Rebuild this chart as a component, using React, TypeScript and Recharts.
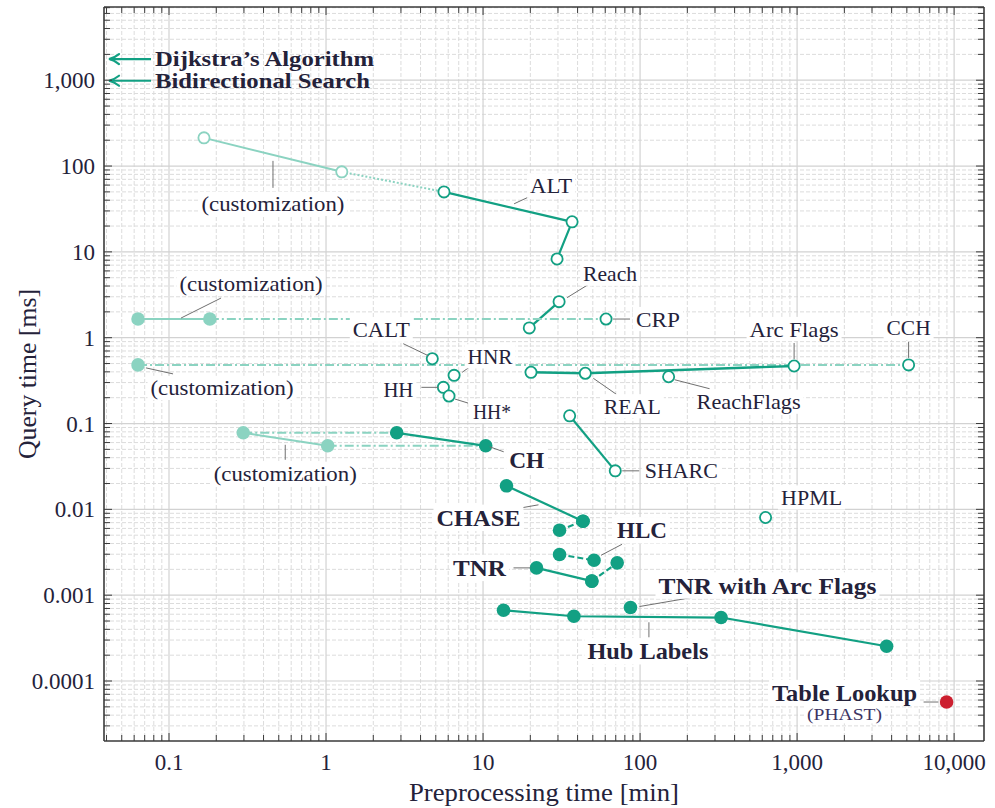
import React from 'react';
import { ScatterChart, Scatter, XAxis, YAxis, CartesianGrid, ReferenceDot, Label } from 'recharts';

// ---------- data (preprocessing time [min], query time [ms]) ----------
const altCustomization = [{ x: 0.167, y: 213 }, { x: 1.26, y: 85.6 }];
const altCustomizationTail = [{ x: 1.26, y: 85.6 }, { x: 5.64, y: 50 }];
const alt = [{ x: 5.64, y: 50 }, { x: 36.9, y: 22.4 }, { x: 29.6, y: 8.27 }];
const reach = [{ x: 19.7, y: 1.3 }, { x: 30.5, y: 2.63 }];
const crpCustomization = [{ x: 0.0635, y: 1.65 }, { x: 0.182, y: 1.65 }];
const crpLink = [{ x: 0.182, y: 1.65 }, { x: 60.7, y: 1.65 }];
const crp = [{ x: 60.7, y: 1.65 }];
const cchCustomization = [{ x: 0.0635, y: 0.482 }];
const cchLink = [{ x: 0.0635, y: 0.482 }, { x: 5130, y: 0.482 }];
const cch = [{ x: 5130, y: 0.482 }];
const arcFlags = [{ x: 20.2, y: 0.395 }, { x: 44.8, y: 0.385 }, { x: 957, y: 0.468 }];
const reachFlags = [{ x: 152, y: 0.351 }];
const calt = [{ x: 4.75, y: 0.569 }];
const hnr = [{ x: 6.54, y: 0.364 }];
const hh = [{ x: 5.59, y: 0.264 }];
const hhStar = [{ x: 6.07, y: 0.209 }];
const sharc = [{ x: 35.6, y: 0.123 }, { x: 69.5, y: 0.0281 }];
const hpml = [{ x: 630, y: 0.00804 }];
const chCustomization = [{ x: 0.297, y: 0.078 }, { x: 1.025, y: 0.055 }];
const chLinkA = [{ x: 0.297, y: 0.078 }, { x: 2.82, y: 0.078 }];
const chLinkB = [{ x: 1.025, y: 0.055 }, { x: 10.4, y: 0.055 }];
const ch = [{ x: 2.82, y: 0.078 }, { x: 10.4, y: 0.055 }];
const chase = [{ x: 14.1, y: 0.0188 }, { x: 43.3, y: 0.00728 }];
const chaseVariant = [{ x: 30.7, y: 0.00572 }, { x: 43.3, y: 0.00728 }];
const hlc = [{ x: 30.7, y: 0.00298 }, { x: 50.9, y: 0.00255 }];
const tnr = [{ x: 21.9, y: 0.00208 }, { x: 49.3, y: 0.00146 }];
const tnrVariant = [{ x: 49.3, y: 0.00146 }, { x: 71.5, y: 0.00238 }];
const tnrArcFlags = [{ x: 86.9, y: 0.000718 }];
const hubLabels = [{ x: 13.5, y: 0.000667 }, { x: 37.9, y: 0.000568 }, { x: 328, y: 0.000549 }, { x: 3717, y: 0.000254 }];
const tableLookup = [{ x: 8955, y: 0.0000569 }];
const dijkstraQuery = 1765;
const bidirectionalQuery = 986;

// ---------- axes ----------
const X_MIN = 0.03855;
const X_MAX = 15500;
const Y_MIN = 0.00002;
const Y_MAX = 7130;
const X_MAJOR = [0.1, 1, 10, 100, 1000, 10000];
const X_LABELS = ['0.1', '1', '10', '100', '1,000', '10,000'];
const Y_MAJOR = [0.0001, 0.001, 0.01, 0.1, 1, 10, 100, 1000];
const Y_LABELS = ['0.0001', '0.001', '0.01', '0.1', '1', '10', '100', '1,000'];
const MULTS = [2, 3, 4, 5, 6, 7, 8, 9];
const minorOf = (decades: number[], lo: number, hi: number) =>
  decades.flatMap((d) => MULTS.map((m) => d * m)).filter((v) => v > lo && v < hi);
const X_MINOR = minorOf([0.01, 0.1, 1, 10, 100, 1000, 10000], X_MIN, X_MAX);
const Y_MINOR = minorOf([0.00001, 0.0001, 0.001, 0.01, 0.1, 1, 10, 100, 1000], Y_MIN, Y_MAX);
const X_TICKS = [...X_MAJOR, ...X_MINOR];
const Y_TICKS = [...Y_MAJOR, ...Y_MINOR];

// ---------- styles ----------
const DARK = '#12a083';
const LIGHT = '#8bd3c1';
const RED = '#cc1f2f';
const INK = '#24223a';
const AXIS = '#3a3a3a';
const LEADER = '#707070';
const FONT = '"Liberation Serif", "Times New Roman", serif';
const DASHDOT = '9 3 2 3';

const lineSeries = [
  { data: altCustomization, color: LIGHT, width: 2, dash: undefined },
  { data: altCustomizationTail, color: LIGHT, width: 2, dash: '2 2' },
  { data: alt, color: DARK, width: 2.2, dash: undefined },
  { data: reach, color: DARK, width: 2.2, dash: undefined },
  { data: crpCustomization, color: LIGHT, width: 2, dash: undefined },
  { data: crpLink, color: LIGHT, width: 2, dash: DASHDOT },
  { data: cchLink, color: LIGHT, width: 2, dash: DASHDOT },
  { data: arcFlags, color: DARK, width: 2.4, dash: undefined },
  { data: sharc, color: DARK, width: 2.2, dash: undefined },
  { data: chCustomization, color: LIGHT, width: 2, dash: undefined },
  { data: chLinkA, color: LIGHT, width: 2, dash: DASHDOT },
  { data: chLinkB, color: LIGHT, width: 2, dash: DASHDOT },
  { data: ch, color: DARK, width: 2.2, dash: undefined },
  { data: chase, color: DARK, width: 2.2, dash: undefined },
  { data: chaseVariant, color: DARK, width: 2.2, dash: '6 3' },
  { data: hlc, color: DARK, width: 2.2, dash: '6 3' },
  { data: tnr, color: DARK, width: 2.2, dash: undefined },
  { data: tnrVariant, color: DARK, width: 2.2, dash: '6 3' },
  { data: hubLabels, color: DARK, width: 2.2, dash: undefined },
];

const pointSeries = [
  { data: altCustomization, color: LIGHT, open: true },
  { data: [...alt, ...reach, ...crp, ...cch, ...arcFlags, ...reachFlags, ...calt, ...hnr, ...hh, ...hhStar, ...sharc, ...hpml], color: DARK, open: true },
  { data: [...crpCustomization, ...cchCustomization, ...chCustomization], color: LIGHT, open: false },
  { data: [...ch, ...chase, ...chaseVariant, ...hlc, ...tnr, ...tnrVariant, ...tnrArcFlags, ...hubLabels], color: DARK, open: false },
  { data: tableLookup, color: RED, open: false },
];

type Ann = {
  at: { x: number; y: number };
  text: string;
  t: [number, number];
  w: number;
  leader?: [number, number, number, number];
  bold?: boolean;
  size?: number;
  color?: string;
};

const annotations: Ann[] = [
  { at: altCustomization[0], text: '(customization)', t: [69, 66], w: 143, leader: [69, 23, 69, 50] },
  { at: alt[1], text: 'ALT', t: [-21, -36], w: 42, leader: [-58, -18, -43, -25] },
  { at: reach[1], text: 'Reach', t: [51, -28], w: 54, leader: [8, -4, 29, -17] },
  { at: crp[0], text: 'CRP', t: [52, 0], w: 44, leader: [7, 0, 24, 0] },
  { at: crpCustomization[0], text: '(customization)', t: [113, -36], w: 143, leader: [43, -1, 83, -21] },
  { at: calt[0], text: 'CALT', t: [-51, -29], w: 57, leader: [-29, -15, -4, -3] },
  { at: hnr[0], text: 'HNR', t: [36, -19], w: 45, leader: [8, -3, 15, -8] },
  { at: hh[0], text: 'HH', t: [-45, 2], w: 30, leader: [-22, 0, -5, 0] },
  { at: hhStar[0], text: 'HH*', t: [43, 15], w: 38, leader: [6, 3, 19, 7] },
  { at: cchCustomization[0], text: '(customization)', t: [84, 23], w: 143, leader: [8, 3, 35, 9] },
  { at: arcFlags[2], text: 'Arc Flags', t: [0, -37], w: 89, leader: [0, -23, 0, -7] },
  { at: cch[0], text: 'CCH', t: [0, -37], w: 44, leader: [0, -23, 0, -7] },
  { at: arcFlags[1], text: 'REAL', t: [47, 33], w: 57, leader: [8, 5, 31, 21] },
  { at: reachFlags[0], text: 'ReachFlags', t: [80, 25], w: 104, leader: [6, 3, 41, 12] },
  { at: sharc[1], text: 'SHARC', t: [66, 0], w: 73, leader: [7, 0, 24, 0] },
  { at: chCustomization[0], text: '(customization)', t: [42, 41], w: 143, leader: [42, 12, 42, 27] },
  { at: ch[1], text: 'CH', t: [41, 14], w: 35, leader: [4, 1, 18, 6], bold: true },
  { at: chase[0], text: 'CHASE', t: [-28, 32], w: 84, leader: [15, 22, 32, 19], bold: true },
  { at: hlc[1], text: 'HLC', t: [48, -30], w: 50, leader: [7, -5, 28, -16], bold: true },
  { at: tnr[0], text: 'TNR', t: [-57, 0], w: 53, leader: [-23, 0, -6, 0], bold: true },
  { at: tnrArcFlags[0], text: 'TNR with Arc Flags', t: [137, -22], w: 218, leader: [9, -1, 73, -12], bold: true },
  { at: hubLabels[1], text: 'Hub Labels', t: [74, 35], w: 121, leader: [75, 6, 75, 21], bold: true },
  { at: tableLookup[0], text: 'Table Lookup', t: [-102, -9], w: 145, leader: [-23, 0, -8, 0], bold: true },
  { at: tableLookup[0], text: '(PHAST)', t: [-102, 12], w: 75, size: 17, color: '#3d3463' },
  { at: hpml[0], text: 'HPML', t: [46, -20], w: 61 },
];

const baselines = [
  { y: dijkstraQuery, text: 'Dijkstra\u2019s Algorithm', w: 219 },
  { y: bidirectionalQuery, text: 'Bidirectional Search', w: 215 },
];

// ---------- renderers ----------
const noDot = () => <g />;
const openDot = (color: string) => (p: any) => (
  <circle cx={p.cx} cy={p.cy} r={5.6} fill="#fff" stroke={color} strokeWidth={1.8} />
);
const filledDot = (color: string) => (p: any) => <circle cx={p.cx} cy={p.cy} r={6.8} fill={color} />;

const XTickBottom = (props: any) => {
  const { x, y, payload } = props;
  const i = X_MAJOR.indexOf(payload.value);
  return (
    <g>
      <line x1={x} y1={y} x2={x} y2={y - (i >= 0 ? 8 : 6)} stroke={AXIS} strokeWidth={1} />
      {i >= 0 && (
        <text x={x} y={y + 29} textAnchor="middle" fontFamily={FONT} fontSize={23} fill={INK}>
          {X_LABELS[i]}
        </text>
      )}
    </g>
  );
};
const XTickTop = (props: any) => {
  const { x, y, payload } = props;
  const major = X_MAJOR.indexOf(payload.value) >= 0;
  return <line x1={x} y1={y} x2={x} y2={y + (major ? 8 : 6)} stroke={AXIS} strokeWidth={1} />;
};
const YTickLeft = (props: any) => {
  const { x, y, payload } = props;
  const i = Y_MAJOR.indexOf(payload.value);
  return (
    <g>
      <line x1={x} y1={y} x2={x + (i >= 0 ? 8 : 6)} y2={y} stroke={AXIS} strokeWidth={1} />
      {i >= 0 && (
        <text x={x - 9} y={y + 8} textAnchor="end" fontFamily={FONT} fontSize={23} fill={INK}>
          {Y_LABELS[i]}
        </text>
      )}
    </g>
  );
};
const YTickRight = (props: any) => {
  const { x, y, payload } = props;
  const major = Y_MAJOR.indexOf(payload.value) >= 0;
  return <line x1={x} y1={y} x2={x - (major ? 8 : 6)} y2={y} stroke={AXIS} strokeWidth={1} />;
};

const annotationShape = (a: Ann) => (p: any) => {
  const { cx, cy } = p;
  const fs = a.size ?? (a.bold ? 24 : 22);
  const tx = cx + a.t[0];
  const ty = cy + a.t[1];
  return (
    <g>
      {a.leader && (
        <line
          x1={cx + a.leader[0]}
          y1={cy + a.leader[1]}
          x2={cx + a.leader[2]}
          y2={cy + a.leader[3]}
          stroke={LEADER}
          strokeWidth={1}
        />
      )}
      <rect x={tx - a.w / 2 - 3} y={ty - fs * 0.55} width={a.w + 6} height={fs * 1.1} fill="#fff" />
      <text
        x={tx}
        y={ty}
        textAnchor="middle"
        dominantBaseline="central"
        fontFamily={FONT}
        fontSize={fs}
        fontWeight={a.bold ? 700 : 400}
        fill={a.color ?? INK}
        textLength={a.w}
        lengthAdjust="spacingAndGlyphs"
      >
        {a.text}
      </text>
    </g>
  );
};

const baselineShape = (b: { text: string; w: number }) => (p: any) => {
  const { cx, cy } = p;
  return (
    <g>
      <line x1={cx + 6} y1={cy} x2={cx + 47} y2={cy} stroke={DARK} strokeWidth={2.2} />
      <path
        d={`M ${cx + 15} ${cy - 5} Q ${cx + 10} ${cy - 1} ${cx + 5} ${cy} Q ${cx + 10} ${cy + 1} ${cx + 15} ${cy + 5}`}
        fill="none"
        stroke={DARK}
        strokeWidth={2.2}
        strokeLinecap="round"
      />
      <text
        x={cx + 51}
        y={cy}
        dominantBaseline="central"
        fontFamily={FONT}
        fontSize={21}
        fontWeight={700}
        fill={INK}
        textLength={b.w}
        lengthAdjust="spacingAndGlyphs"
      >
        {b.text}
      </text>
    </g>
  );
};

const YTitle = (props: any) => {
  const vb = props.viewBox || { x: 0, y: 7, width: 104, height: 734 };
  const cx = vb.x + 27;
  const cy = vb.y + vb.height / 2;
  return (
    <text
      x={cx}
      y={cy}
      transform={`rotate(-90 ${cx} ${cy})`}
      textAnchor="middle"
      dominantBaseline="central"
      fontFamily={FONT}
      fontSize={25}
      fill={INK}
      textLength={170}
      lengthAdjust="spacingAndGlyphs"
    >
      Query time [ms]
    </text>
  );
};
const XTitle = (props: any) => {
  const vb = props.viewBox || { x: 104, y: 741, width: 880, height: 67 };
  return (
    <text
      x={vb.x + vb.width / 2}
      y={vb.y + 60}
      textAnchor="middle"
      fontFamily={FONT}
      fontSize={26}
      fill={INK}
      textLength={270}
      lengthAdjust="spacingAndGlyphs"
    >
      Preprocessing time [min]
    </text>
  );
};

export default function App() {
  return (
    <div style={{ position: 'absolute', left: 0, top: 0, width: 995, height: 808, background: '#fff' }}>
      <ScatterChart width={995} height={808} margin={{ top: 6, right: 10, bottom: 0, left: 0 }}>
        <CartesianGrid
          xAxisId="main"
          yAxisId="main"
          horizontalValues={Y_MINOR}
          verticalValues={X_MINOR}
          stroke="#dcdcdc"
          strokeDasharray="4 2"
        />
        <CartesianGrid
          xAxisId="main"
          yAxisId="main"
          horizontalValues={Y_MAJOR}
          verticalValues={X_MAJOR}
          stroke="#d2d2d2"
          strokeWidth={1.2}
        />
        <XAxis
          xAxisId="main"
          dataKey="x"
          type="number"
          scale="log"
          domain={[X_MIN, X_MAX]}
          allowDataOverflow
          ticks={X_TICKS}
          interval={0}
          tick={<XTickBottom />}
          tickLine={false}
          tickSize={0}
          tickMargin={0}
          height={67}
          axisLine={{ stroke: AXIS, strokeWidth: 1.6 }}
        >
          <Label content={<XTitle />} />
        </XAxis>
        <XAxis
          xAxisId="top"
          orientation="top"
          dataKey="x"
          type="number"
          scale="log"
          domain={[X_MIN, X_MAX]}
          allowDataOverflow
          ticks={X_TICKS}
          interval={0}
          tick={<XTickTop />}
          tickLine={false}
          tickSize={0}
          tickMargin={0}
          height={1}
          axisLine={{ stroke: AXIS, strokeWidth: 1.6 }}
        />
        <YAxis
          yAxisId="main"
          dataKey="y"
          type="number"
          scale="log"
          domain={[Y_MIN, Y_MAX]}
          allowDataOverflow
          ticks={Y_TICKS}
          interval={0}
          tick={<YTickLeft />}
          tickLine={false}
          tickSize={0}
          tickMargin={0}
          width={104}
          axisLine={{ stroke: AXIS, strokeWidth: 1.6 }}
        >
          <Label content={<YTitle />} />
        </YAxis>
        <YAxis
          yAxisId="right"
          orientation="right"
          dataKey="y"
          type="number"
          scale="log"
          domain={[Y_MIN, Y_MAX]}
          allowDataOverflow
          ticks={Y_TICKS}
          interval={0}
          tick={<YTickRight />}
          tickLine={false}
          tickSize={0}
          tickMargin={0}
          width={1}
          axisLine={{ stroke: AXIS, strokeWidth: 1.6 }}
        />
        <Scatter
          xAxisId="top"
          yAxisId="right"
          data={hubLabels}
          shape={noDot}
          legendType="none"
          isAnimationActive={false}
        />
        {lineSeries.map((s, i) => (
          <Scatter
            key={`l${i}`}
            xAxisId="main"
            yAxisId="main"
            data={s.data}
            shape={noDot}
            line={{ stroke: s.color, strokeWidth: s.width, strokeDasharray: s.dash }}
            legendType="none"
            isAnimationActive={false}
          />
        ))}
        {pointSeries.map((s, i) => (
          <Scatter
            key={`p${i}`}
            xAxisId="main"
            yAxisId="main"
            data={s.data}
            shape={s.open ? openDot(s.color) : filledDot(s.color)}
            legendType="none"
            isAnimationActive={false}
          />
        ))}
        {annotations.map((a, i) => (
          <ReferenceDot
            key={`a${i}`}
            xAxisId="main"
            yAxisId="main"
            x={a.at.x}
            y={a.at.y}
            r={0}
            ifOverflow="visible"
            shape={annotationShape(a)}
          />
        ))}
        {baselines.map((b, i) => (
          <ReferenceDot
            key={`b${i}`}
            xAxisId="main"
            yAxisId="main"
            x={X_MIN}
            y={b.y}
            r={0}
            ifOverflow="visible"
            shape={baselineShape(b)}
          />
        ))}
      </ScatterChart>
    </div>
  );
}
